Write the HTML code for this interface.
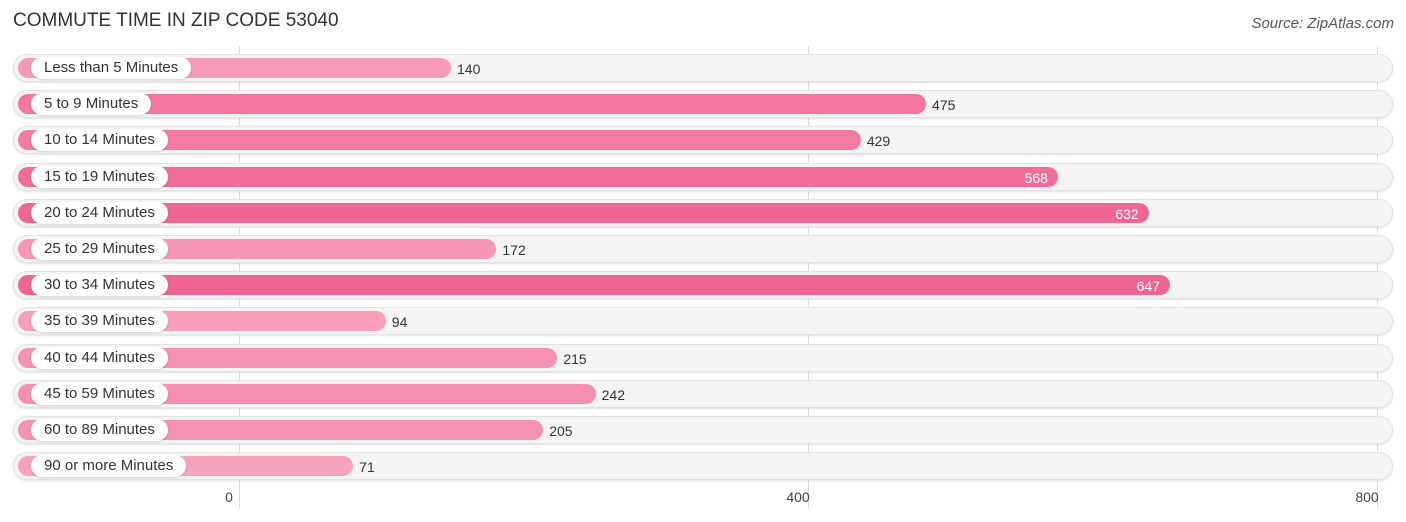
<!DOCTYPE html>
<html><head><meta charset="utf-8"><style>
body{margin:0;width:1406px;height:522px;background:#fff;font-family:"Liberation Sans",sans-serif;position:relative;overflow:hidden}
.t{position:absolute;left:13px;top:10px;font-size:19px;color:#333}
.s{position:absolute;right:12px;top:15px;font-size:15px;font-style:italic;color:#555}
.grid{position:absolute;top:46px;height:462px;width:1px;background:#ddd}
.tick{position:absolute;top:489px;font-size:14px;color:#444;transform:translateX(-50%)}
.row{position:absolute;left:13px;width:1380px;height:28px;border-radius:14px;background:#f4f4f4;box-shadow:0 0 0 1px #e2e2e2 inset,0 1px 2px rgba(0,0,0,.12)}
.bar{position:absolute;left:18px;height:20px;border-radius:10px}
.lab{position:absolute;left:31px;height:22px;line-height:22px;padding:0 13px;border-radius:11px;background:#fff;font-size:15px;color:#333;box-shadow:0 1px 2px rgba(0,0,0,.15)}
.val{position:absolute;font-size:14px;line-height:20px}
</style></head><body>
<div class="t">COMMUTE TIME IN ZIP CODE 53040</div>
<div class="s">Source: ZipAtlas.com</div>
<div id="c"></div>
<script>
const categories=["Less than 5 Minutes","5 to 9 Minutes","10 to 14 Minutes","15 to 19 Minutes","20 to 24 Minutes","25 to 29 Minutes","30 to 34 Minutes","35 to 39 Minutes","40 to 44 Minutes","45 to 59 Minutes","60 to 89 Minutes","90 or more Minutes"];
const values=[140,475,429,568,632,172,647,94,215,242,205,71];
const ticks=[0,400,800];
const c=document.getElementById('c');
const gx=v=>239+v*569/400;
const bx=v=>252.5+v*1.418;
const maxV=Math.max(...values);
function col(v){const t=v/maxV;const a=[248,168,194],b=[240,100,146];return `rgb(${a.map((x,i)=>Math.round(x+(b[i]-x)*t)).join(',')})`;}
ticks.forEach(t=>{const g=document.createElement('div');g.className='grid';g.style.left=gx(t)+'px';

c.appendChild(g);
const l=document.createElement('div');l.className='tick';l.style.left=(gx(t)-10)+'px';l.textContent=t;

c.appendChild(l);});
categories.forEach((cat,i)=>{const cy=68+i*36.2;const v=values[i];
const r=document.createElement('div');r.className='row';r.style.top=(cy-14)+'px';

c.appendChild(r);
const b=document.createElement('div');b.className='bar';b.style.top=(cy-10)+'px';const w=bx(v)-18;b.style.width=w+'px';b.style.background=col(v);

c.appendChild(b);
const l=document.createElement('div');l.className='lab';l.style.top=(cy-11)+'px';l.textContent=cat;

c.appendChild(l);
const t=document.createElement('div');t.className='val';t.style.top=(cy-9)+'px';t.textContent=v;
if(v>500){t.style.left=(bx(v)-40)+'px';t.style.width='30px';t.style.textAlign='right';t.style.color='#fff';}
else{t.style.left=(bx(v)+6)+'px';t.style.color='#333';}

c.appendChild(t);});
</script>
</body></html>
